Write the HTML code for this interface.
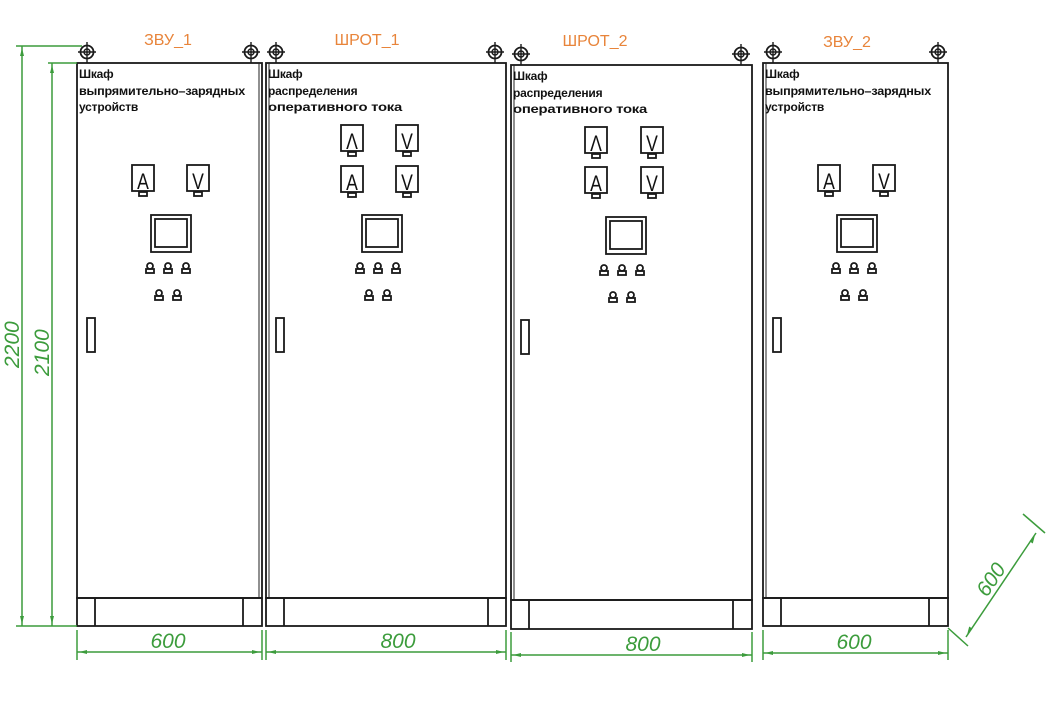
<!DOCTYPE html>
<html><head><meta charset="utf-8"><style>
html,body{margin:0;padding:0;background:#fff;width:1060px;height:708px;overflow:hidden}
svg{display:block}
.k{fill:none;stroke:#1a1a1a;stroke-width:1.8}
.g{stroke:#3c9c3c;stroke-width:1.5;fill:none}
.gt{fill:#3c9c3c;font-family:"Liberation Sans",sans-serif;font-style:italic;font-size:21px}
.o{fill:#e8843a;font-family:"Liberation Sans",sans-serif;font-size:16px}
.t{fill:#111;font-family:"Liberation Sans",sans-serif;font-size:12px;font-weight:bold;letter-spacing:-0.2px}
.m{fill:#111;font-family:"Liberation Sans",sans-serif;font-size:22px}
</style></head><body>
<svg width="1060" height="708" viewBox="0 0 1060 708" xmlns="http://www.w3.org/2000/svg">
<defs>
<g id="bolt"><circle cx="0" cy="0" r="6.5" fill="none" stroke="#1a1a1a" stroke-width="1.8"/><circle cx="0" cy="0" r="3" fill="none" stroke="#1a1a1a" stroke-width="1.4"/><line x1="-9" y1="0" x2="9" y2="0" stroke="#1a1a1a" stroke-width="1.4"/><line x1="0" y1="-10" x2="0" y2="11" stroke="#1a1a1a" stroke-width="1.4"/></g>
<g id="met"><rect x="0" y="0" width="22" height="26" class="k"/><rect x="7" y="27" width="8" height="4" class="k" stroke-width="1.4"/></g>
<g id="knob"><circle cx="4" cy="3" r="3" class="k" stroke-width="1.5"/><rect x="0" y="6" width="8" height="4" class="k" stroke-width="1.5"/></g>
<g id="scr"><rect x="0" y="0" width="40" height="37" class="k" stroke-width="1.4"/><rect x="4" y="4" width="32" height="28" class="k" stroke-width="2"/></g>
</defs>

<text class="o" x="168" y="45" text-anchor="middle">ЗВУ_1</text>
<text class="o" x="367" y="45" text-anchor="middle">ШРОТ_1</text>
<text class="o" x="595" y="46" text-anchor="middle">ШРОТ_2</text>
<text class="o" x="847" y="47" text-anchor="middle">ЗВУ_2</text>

<!-- cabinet 1 -->
<rect x="77" y="63" width="185" height="535" class="k" stroke-width="2.6"/>
<line x1="259" y1="63" x2="259" y2="598" stroke="#222" stroke-width="1"/>
<rect x="77" y="598" width="185" height="28" class="k"/>
<line x1="95" y1="598" x2="95" y2="626" class="k"/><line x1="243" y1="598" x2="243" y2="626" class="k"/>
<use href="#bolt" x="87" y="52"/><use href="#bolt" x="251" y="52"/>
<text class="t" x="79" y="78">Шкаф</text>
<text class="t" x="79" y="95" textLength="166" lengthAdjust="spacingAndGlyphs">выпрямительно–зарядных</text>
<text class="t" x="79" y="111">устройств</text>
<g transform="translate(0,0)">
<use href="#met" x="132" y="165"/><text class="m" x="143" y="189" text-anchor="middle" transform="translate(143,189) scale(0.8,1) translate(-143,-189)">A</text>
<use href="#met" x="187" y="165"/><text class="m" x="198" y="189" text-anchor="middle" transform="translate(198,189) scale(0.8,1) translate(-198,-189)">V</text>
</g>
<use href="#scr" x="151" y="215"/>
<use href="#knob" x="146" y="263"/><use href="#knob" x="164" y="263"/><use href="#knob" x="182" y="263"/>
<use href="#knob" x="155" y="290"/><use href="#knob" x="173" y="290"/>
<rect x="87" y="318" width="8" height="34" class="k" stroke-width="1.6"/>

<!-- cabinet 2 -->
<rect x="266" y="63" width="240" height="535" class="k" stroke-width="2.6"/>
<line x1="269" y1="63" x2="269" y2="598" stroke="#222" stroke-width="1"/>
<rect x="266" y="598" width="240" height="28" class="k"/>
<line x1="284" y1="598" x2="284" y2="626" class="k"/><line x1="488" y1="598" x2="488" y2="626" class="k"/>
<use href="#bolt" x="276" y="52"/><use href="#bolt" x="495" y="52"/>
<text class="t" x="268" y="78">Шкаф</text>
<text class="t" x="268" y="95">распределения</text>
<text class="t" x="268" y="111" textLength="134" lengthAdjust="spacingAndGlyphs">оперативного  тока</text>
<use href="#met" x="341" y="125"/><text class="m" x="352" y="149" text-anchor="middle" transform="translate(352,149) scale(0.8,1) translate(-352,-149)">Λ</text>
<use href="#met" x="396" y="125"/><text class="m" x="407" y="149" text-anchor="middle" transform="translate(407,149) scale(0.8,1) translate(-407,-149)">V</text>
<use href="#met" x="341" y="166"/><text class="m" x="352" y="190" text-anchor="middle" transform="translate(352,190) scale(0.8,1) translate(-352,-190)">A</text>
<use href="#met" x="396" y="166"/><text class="m" x="407" y="190" text-anchor="middle" transform="translate(407,190) scale(0.8,1) translate(-407,-190)">V</text>
<use href="#scr" x="362" y="215"/>
<use href="#knob" x="356" y="263"/><use href="#knob" x="374" y="263"/><use href="#knob" x="392" y="263"/>
<use href="#knob" x="365" y="290"/><use href="#knob" x="383" y="290"/>
<rect x="276" y="318" width="8" height="34" class="k" stroke-width="1.6"/>

<!-- cabinet 3 -->
<rect x="511" y="65" width="241" height="535" class="k" stroke-width="2.6"/>
<line x1="514" y1="65" x2="514" y2="600" stroke="#222" stroke-width="1"/>
<rect x="511" y="600" width="241" height="29" class="k"/>
<line x1="529" y1="600" x2="529" y2="629" class="k"/><line x1="733" y1="600" x2="733" y2="629" class="k"/>
<use href="#bolt" x="521" y="54"/><use href="#bolt" x="741" y="54"/>
<text class="t" x="513" y="80">Шкаф</text>
<text class="t" x="513" y="97">распределения</text>
<text class="t" x="513" y="113" textLength="134" lengthAdjust="spacingAndGlyphs">оперативного  тока</text>
<use href="#met" x="585" y="127"/><text class="m" x="596" y="151" text-anchor="middle" transform="translate(596,151) scale(0.8,1) translate(-596,-151)">Λ</text>
<use href="#met" x="641" y="127"/><text class="m" x="652" y="151" text-anchor="middle" transform="translate(652,151) scale(0.8,1) translate(-652,-151)">V</text>
<use href="#met" x="585" y="167"/><text class="m" x="596" y="191" text-anchor="middle" transform="translate(596,191) scale(0.8,1) translate(-596,-191)">A</text>
<use href="#met" x="641" y="167"/><text class="m" x="652" y="191" text-anchor="middle" transform="translate(652,191) scale(0.8,1) translate(-652,-191)">V</text>
<use href="#scr" x="606" y="217"/>
<use href="#knob" x="600" y="265"/><use href="#knob" x="618" y="265"/><use href="#knob" x="636" y="265"/>
<use href="#knob" x="609" y="292"/><use href="#knob" x="627" y="292"/>
<rect x="521" y="320" width="8" height="34" class="k" stroke-width="1.6"/>

<!-- cabinet 4 -->
<rect x="763" y="63" width="185" height="535" class="k" stroke-width="2.6"/>
<line x1="766" y1="63" x2="766" y2="598" stroke="#222" stroke-width="1"/>
<rect x="763" y="598" width="185" height="28" class="k"/>
<line x1="781" y1="598" x2="781" y2="626" class="k"/><line x1="929" y1="598" x2="929" y2="626" class="k"/>
<use href="#bolt" x="773" y="52"/><use href="#bolt" x="938" y="52"/>
<text class="t" x="765" y="78">Шкаф</text>
<text class="t" x="765" y="95" textLength="166" lengthAdjust="spacingAndGlyphs">выпрямительно–зарядных</text>
<text class="t" x="765" y="111">устройств</text>
<use href="#met" x="818" y="165"/><text class="m" x="829" y="189" text-anchor="middle" transform="translate(829,189) scale(0.8,1) translate(-829,-189)">A</text>
<use href="#met" x="873" y="165"/><text class="m" x="884" y="189" text-anchor="middle" transform="translate(884,189) scale(0.8,1) translate(-884,-189)">V</text>
<use href="#scr" x="837" y="215"/>
<use href="#knob" x="832" y="263"/><use href="#knob" x="850" y="263"/><use href="#knob" x="868" y="263"/>
<use href="#knob" x="841" y="290"/><use href="#knob" x="859" y="290"/>
<rect x="773" y="318" width="8" height="34" class="k" stroke-width="1.6"/>

<!-- vertical dims -->
<line x1="16" y1="46" x2="82" y2="46" class="g"/>
<line x1="48" y1="63" x2="77" y2="63" class="g"/>
<line x1="16" y1="626" x2="77" y2="626" class="g"/>
<line x1="22" y1="46" x2="22" y2="626" class="g"/>
<line x1="52" y1="63" x2="52" y2="626" class="g"/>
<path d="M22 48 l-2 8 h4z M22 624 l-2 -8 h4z M52 65 l-2 8 h4z M52 624 l-2 -8 h4z" fill="#3c9c3c"/>
<text class="gt" transform="translate(19,368) rotate(-90)">2200</text>
<text class="gt" transform="translate(49,376) rotate(-90)">2100</text>

<!-- horizontal dims -->
<g class="g">
<line x1="77" y1="630" x2="77" y2="660"/><line x1="262" y1="630" x2="262" y2="660"/>
<line x1="266" y1="630" x2="266" y2="660"/><line x1="506" y1="630" x2="506" y2="660"/>
<line x1="511" y1="632" x2="511" y2="662"/><line x1="752" y1="632" x2="752" y2="662"/>
<line x1="763" y1="630" x2="763" y2="660"/><line x1="948" y1="630" x2="948" y2="660"/>
<line x1="77" y1="652" x2="262" y2="652"/><line x1="266" y1="652" x2="506" y2="652"/>
<line x1="511" y1="655" x2="752" y2="655"/><line x1="763" y1="653" x2="948" y2="653"/>
<line x1="948" y1="628" x2="968" y2="646"/>
<line x1="1023" y1="514" x2="1045" y2="533"/>
<line x1="966" y1="637" x2="1036" y2="533"/>
</g>
<path d="M79 652 l8 -2 v4z M260 652 l-8 -2 v4z M268 652 l8 -2 v4z M504 652 l-8 -2 v4z M513 655 l8 -2 v4z M750 655 l-8 -2 v4z M765 653 l8 -2 v4z M946 653 l-8 -2 v4z" fill="#3c9c3c"/>
<path d="M967 635 l2.2 -8.5 l3.3 2.2z M1035 535 l-2.2 8.5 l-3.3 -2.2z" fill="#3c9c3c"/>
<text class="gt" x="168" y="648" text-anchor="middle">600</text>
<text class="gt" x="398" y="648" text-anchor="middle">800</text>
<text class="gt" x="643" y="651" text-anchor="middle">800</text>
<text class="gt" x="854" y="649" text-anchor="middle">600</text>
<text class="gt" transform="translate(987,598) rotate(-56)">600</text>
</svg>
</body></html>
